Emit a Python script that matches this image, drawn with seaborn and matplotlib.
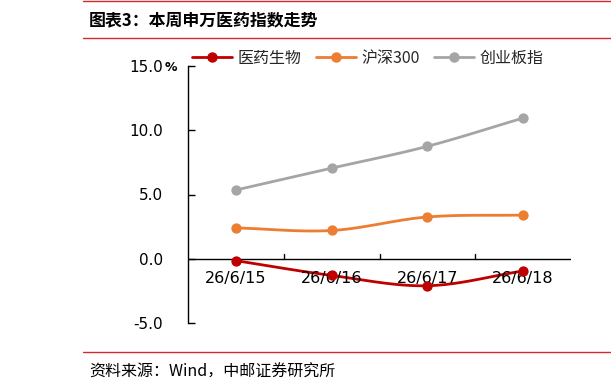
import numpy as np
import pandas as pd
import matplotlib
matplotlib.use("Agg")
import matplotlib.pyplot as plt
from matplotlib.lines import Line2D
import seaborn as sns

categories = ["26/6/15", "26/6/16", "26/6/17", "26/6/18"]
yiyao = [-0.15, -1.3, -2.1, -0.95]
hs300 = [2.4, 2.2, 3.25, 3.4]
cyb = [5.35, 7.05, 8.75, 10.95]
series_names = ["医药生物", "沪深300", "创业板指"]
colors = ["#C00000", "#ED7D31", "#A5A5A5"]
yticks = [-5, 0, 5, 10, 15]
ytick_labels = ["-5.0", "0.0", "5.0", "10.0", "15.0"]
y_unit = "%"

sns.set_theme(style="white")
plt.rcParams['font.family'] = ['Noto Sans CJK SC', 'DejaVu Sans']
num_font = ['DejaVu Sans']


def smooth(xs, ys, n=30):
    xs = np.asarray(xs, float); ys = np.asarray(ys, float)
    px = np.concatenate([[2 * xs[0] - xs[1]], xs, [2 * xs[-1] - xs[-2]]])
    py = np.concatenate([[2 * ys[0] - ys[1]], ys, [2 * ys[-1] - ys[-2]]])
    ox, oy = [], []
    for i in range(1, len(px) - 2):
        t = np.linspace(0, 1, n, endpoint=(i == len(px) - 3))
        p0, p1, p2, p3 = [np.array([px[j], py[j]]) for j in (i - 1, i, i + 1, i + 2)]
        c1 = p1 + (p2 - p0) / 6
        c2 = p2 - (p3 - p1) / 6
        b = ((1 - t) ** 3)[:, None] * p1 + (3 * (1 - t) ** 2 * t)[:, None] * c1 + \
            (3 * (1 - t) * t ** 2)[:, None] * c2 + (t ** 3)[:, None] * p2
        ox.extend(b[:, 0]); oy.extend(b[:, 1])
    return np.array(ox), np.array(oy)


xpos = np.arange(len(categories))
rows, pts = [], []
for name, vals in zip(series_names, [yiyao, hs300, cyb]):
    sx, sy = smooth(xpos, vals)
    rows.append(pd.DataFrame({"x": sx, "y": sy, "series": name}))
    pts.append(pd.DataFrame({"x": xpos, "y": vals, "series": name}))
line_df = pd.concat(rows, ignore_index=True)
pt_df = pd.concat(pts, ignore_index=True)

fig = plt.figure(figsize=(6.11, 3.91), dpi=100)
ax = fig.add_axes([188 / 611, 1 - 323 / 391, 383 / 611, 257 / 391])
palette = dict(zip(series_names, colors))
order = list(reversed(series_names))
for name in order:
    sns.lineplot(data=line_df[line_df.series == name], x="x", y="y", color=palette[name],
                 lw=2.0, ax=ax, sort=False, estimator=None, legend=False)
    sns.scatterplot(data=pt_df[pt_df.series == name], x="x", y="y", color=palette[name],
                    s=55, edgecolor=palette[name], linewidth=0, ax=ax, legend=False, zorder=5)

ax.set_xlim(-0.5, len(categories) - 0.5)
ax.set_ylim(-5, 15)
ax.set_yticks(yticks)
ax.set_yticklabels(ytick_labels, fontsize=11, color="#000000", family=num_font)
ax.set_xticks([])
ax.set_xlabel(""); ax.set_ylabel("")
for s in ["top", "right", "bottom"]:
    ax.spines[s].set_visible(False)
ax.spines["left"].set_color("black")
ax.spines["left"].set_linewidth(1.0)
ax.tick_params(axis="y", direction="in", length=5, width=1, color="black", left=True, pad=18)
# unit sign after the top tick label
ax.annotate(y_unit, xy=(0, 1), xycoords="axes fraction", xytext=(-17, -0.8),
            textcoords="offset points", ha="left", va="center", fontsize=9,
            fontweight="bold", family=num_font, color="black")
# zero line with category-boundary ticks
ax.axhline(0, color="black", lw=1.0, zorder=1)
for b in np.arange(0.5, len(categories) - 0.5, 1):
    ax.plot([b, b], [0, 0.35], color="black", lw=1.0, zorder=1)
for i, c in enumerate(categories):
    ax.text(i, -0.95, c, ha="center", va="top", fontsize=11.5, color="black", zorder=2,
            family=num_font)

handles = [Line2D([0], [0], color=c, lw=2.0, marker="o", markersize=6.5) for c in colors]
fig.legend(handles, series_names, loc="center left", bbox_to_anchor=(192 / 611, 1 - 58 / 391),
           ncol=3, frameon=False, fontsize=11.5, handlelength=2.5, columnspacing=0.9,
           handletextpad=0.35, borderaxespad=0, borderpad=0)

# header / footer decoration
red = "#D9262B"
for yy in (1, 38, 352):
    fig.add_artist(Line2D([83 / 611, 1], [1 - yy / 391, 1 - yy / 391], color=red, lw=1.0))
fig.text(89 / 611, 1 - 20 / 391, "图表3：本周申万医药指数走势", fontsize=12.2, fontweight="bold",
         va="center", ha="left", color="black")
fig.text(89 / 611, 1 - 372 / 391, "资料来源：Wind，中邮证券研究所", fontsize=11.5,
         va="center", ha="left", color="black")

fig.savefig("out.png", dpi=100)
